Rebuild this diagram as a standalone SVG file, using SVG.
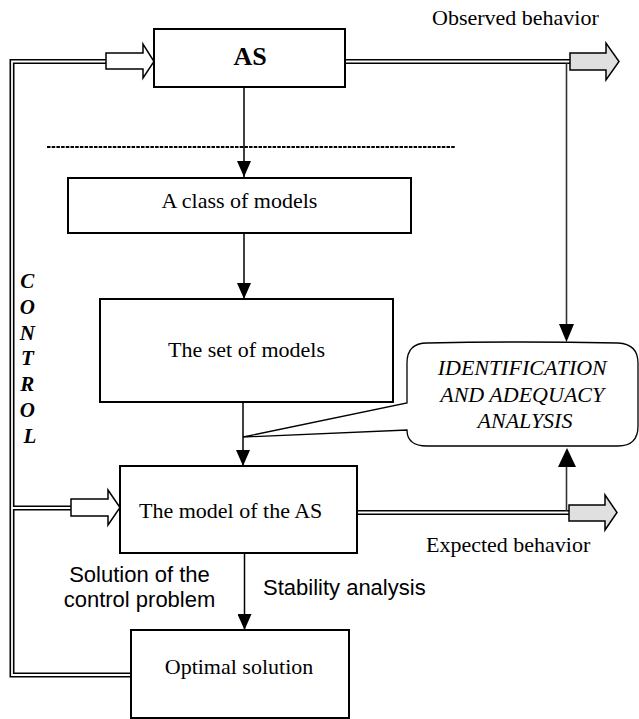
<svg xmlns="http://www.w3.org/2000/svg" width="639" height="719" viewBox="0 0 639 719">
<style>
.box{fill:#fff;stroke:#000;stroke-width:2}
.serif{font-family:"Liberation Serif","Times New Roman",serif;font-size:22px;fill:#000}
.sans{font-family:"Liberation Sans",Arial,sans-serif;font-size:22px;fill:#000}
.ln{fill:none;stroke:#000;stroke-width:1.5}
.dblo{fill:none;stroke:#000;stroke-width:5}
.dbli{fill:none;stroke:#fff;stroke-width:1.8}
.hollow{fill:#fff;stroke:#000;stroke-width:1.5}
.grayarr{fill:#e0e0e0;stroke:#000;stroke-width:1.5}
.ctl{font-family:"Liberation Serif","Times New Roman",serif;font-size:21px;font-weight:bold;font-style:italic}
</style>
<defs>
<marker id="ah" markerWidth="16" markerHeight="14" refX="16" refY="7" orient="auto" markerUnits="userSpaceOnUse" viewBox="0 0 16 14">
<path d="M0,0 L16,7 L0,14 Z" fill="#000"/>
</marker>
</defs>
<rect width="639" height="719" fill="#fff"/>

<g id="connectors">
<line x1="47" y1="147" x2="455" y2="147" stroke="#000" stroke-width="2.2" stroke-dasharray="3.5 1.2"/>
<path class="dblo" d="M106,61.5 H12 V675 H131"/>
<path class="dblo" d="M12,508 H71"/>
<path class="dbli" d="M106,61.5 H12 V675 H131"/>
<path class="dbli" d="M12,508 H71"/>
<path class="dblo" d="M345,61.5 H570"/>
<path class="dbli" d="M345,61.5 H570"/>
<path class="dblo" d="M357,512.5 H569"/>
<path class="dbli" d="M357,512.5 H569"/>
<line x1="566.5" y1="63" x2="566.5" y2="326" stroke="#333" stroke-width="1.6"/>
<path d="M559,324 L574,324 L566.5,342 Z" fill="#000"/>
<line x1="566.5" y1="511" x2="566.5" y2="466" stroke="#333" stroke-width="1.6"/>
<path d="M558,467 L576,467 L567,448 Z" fill="#000"/>
<path class="hollow" d="M106,53 H143 V44 L154,61.5 L143,78 V69 H106 Z"/>
<path class="hollow" d="M71,499 H108 V490 L120,507.5 L108,525 V516 H71 Z"/>
<path class="grayarr" d="M570,53 H606 V43 L619,61.5 L606,80 V70 H570 Z"/>
<path class="grayarr" d="M569,505 H605 V495 L617,512.5 L605,530 V521 H569 Z"/>
<line class="ln" x1="244" y1="87" x2="244" y2="177" marker-end="url(#ah)"/>
<line class="ln" x1="244" y1="233" x2="244" y2="299" marker-end="url(#ah)"/>
<line class="ln" x1="243" y1="402" x2="243" y2="466" marker-end="url(#ah)"/>
<line class="ln" x1="244.5" y1="553" x2="244.5" y2="630" marker-end="url(#ah)"/>
</g>

<g id="node-as">
<rect class="box" x="154" y="29" width="191" height="58"/>
<text x="250" y="65" text-anchor="middle" font-family="Liberation Serif,'Times New Roman',serif" font-size="26" font-weight="bold">AS</text>
</g>

<g id="node-class">
<rect class="box" x="68" y="178" width="343" height="55"/>
<text class="serif" x="239.5" y="208" text-anchor="middle">A class of models</text>
</g>

<g id="node-set">
<rect class="box" x="100" y="299" width="293" height="103"/>
<text class="serif" x="246.5" y="357" text-anchor="middle">The set of models</text>
</g>

<g id="node-model">
<rect class="box" x="120" y="466" width="237" height="87"/>
<text class="serif" x="139" y="518">The model of the AS</text>
</g>

<g id="node-optimal">
<rect class="box" x="131" y="630" width="218" height="88"/>
<text class="serif" x="239" y="674" text-anchor="middle" font-size="23">Optimal solution</text>
</g>

<g id="node-identification">
<path d="M427,343 Q520,341 618,343 Q638,344 638,363 L638,426 Q638,446 618,446 L427,446 Q407,446 407,430 L243,437 L407,403 L407,363 Q407,343 427,343 Z" fill="#fff" stroke="#000" stroke-width="1.3"/>
<text class="serif" font-style="italic" text-anchor="middle">
<tspan x="525" y="375">IDENTIFICATION</tspan>
<tspan x="525" y="402">AND ADEQUACY</tspan>
<tspan x="525" y="428">ANALYSIS</tspan>
</text>
</g>

<g id="labels">
<text class="serif" x="432" y="25">Observed behavior</text>
<text class="serif" x="426" y="552">Expected behavior</text>
<text class="sans" x="139.5" y="582" text-anchor="middle">Solution of the</text>
<text class="sans" x="139.5" y="607" text-anchor="middle">control problem</text>
<text class="sans" x="263" y="595">Stability analysis</text>
<text class="ctl" text-anchor="middle">
<tspan x="30" y="288">C</tspan>
<tspan x="30" y="314">O</tspan>
<tspan x="30" y="340">N</tspan>
<tspan x="30" y="365">T</tspan>
<tspan x="30" y="391">R</tspan>
<tspan x="30" y="417">O</tspan>
<tspan x="30" y="443">L</tspan>
</text>
</g>
</svg>
